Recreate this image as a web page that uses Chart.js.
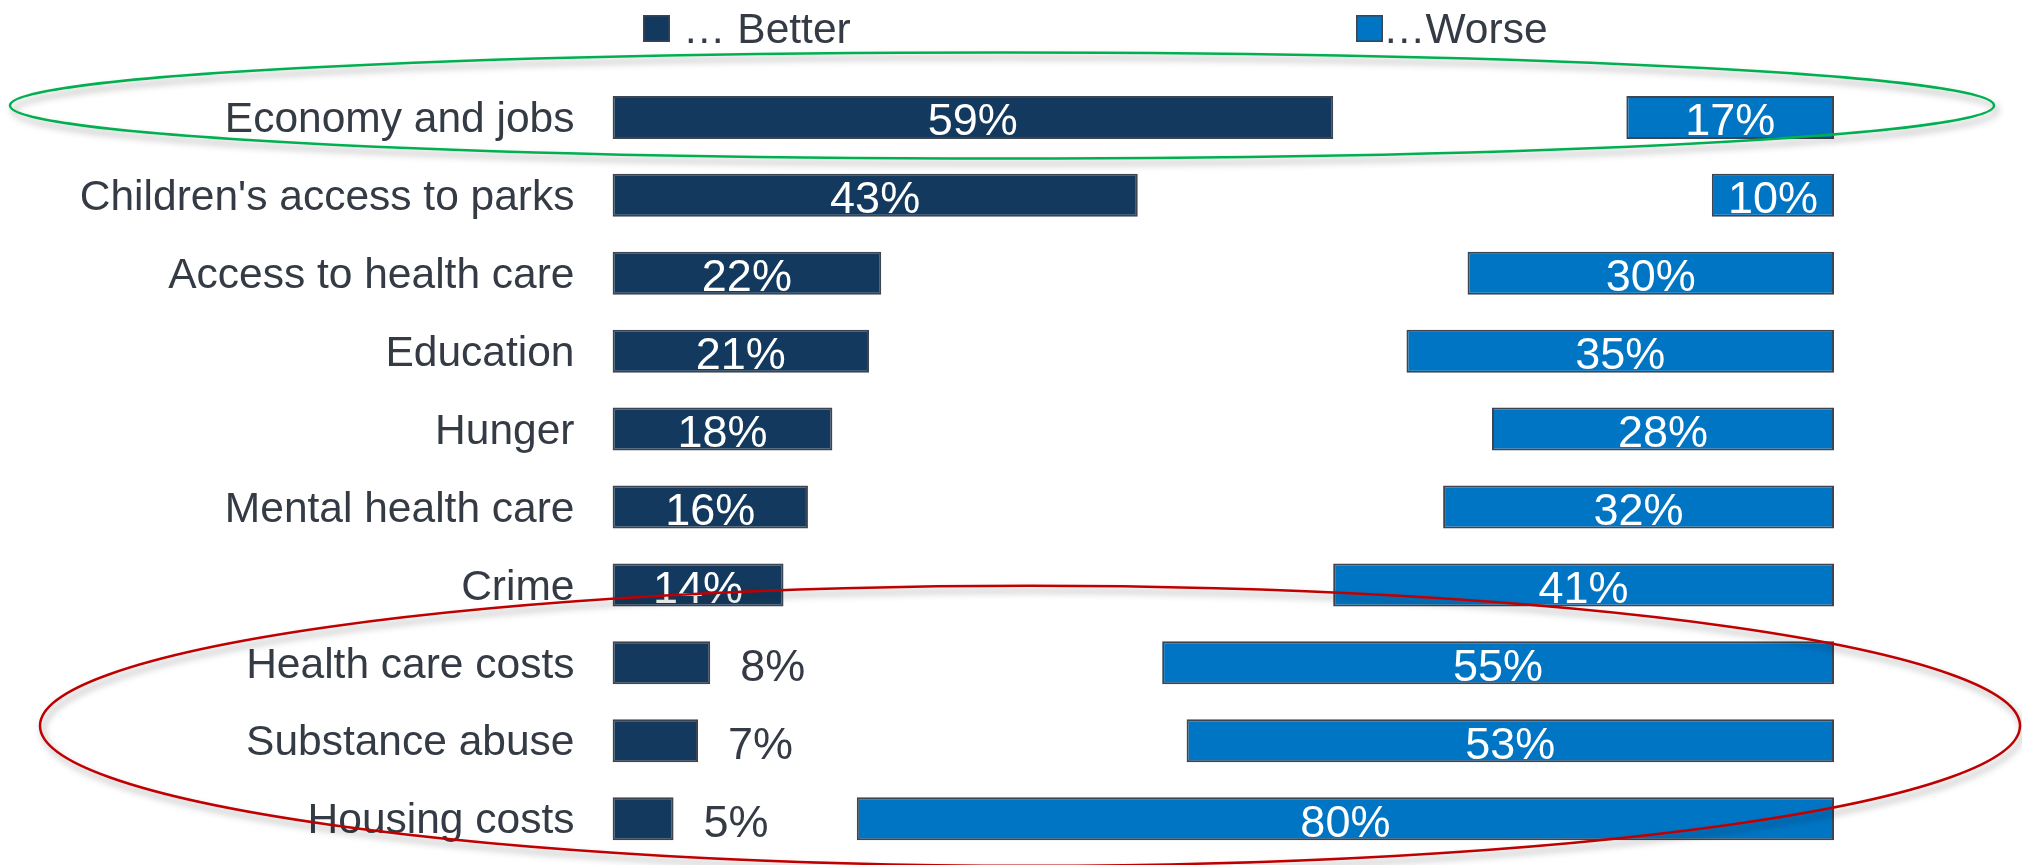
<!DOCTYPE html>
<html>
<head>
<meta charset="utf-8">
<script src="https://cdn.jsdelivr.net/npm/chart.js@4"></script>
<style>
  html, body { margin: 0; padding: 0; background: #ffffff; }
  #wrap { width: 2022px; height: 865px; position: relative; }
</style>
</head>
<body>
<div id="wrap"><canvas id="c" width="2022" height="865"></canvas></div>
<script>
const categories = [
  "Economy and jobs",
  "Children's access to parks",
  "Access to health care",
  "Education",
  "Hunger",
  "Mental health care",
  "Crime",
  "Health care costs",
  "Substance abuse",
  "Housing costs"
];
const betterValues = [59, 43, 22, 21, 18, 16, 14, 8, 7, 5];
const worseValues  = [17, 10, 30, 35, 28, 32, 41, 55, 53, 80];
const seriesNames  = ["\u2026 Better", "\u2026Worse"];
const axisMin = 0;
const axisMax = 100;

const FONT = '"Liberation Sans", Arial, "DejaVu Sans", sans-serif';
const BETTER_COLOR = '#133A5E';
const WORSE_COLOR = '#0075C4';
const BORDER_COLOR = '#3E4550';
const TEXT_COLOR = '#343B45';

// Value labels drawn from the bar elements
const valueLabels = {
  id: 'valueLabels',
  afterDatasetsDraw(chart) {
    const ctx = chart.ctx;
    ctx.save();
    ctx.font = '45px ' + FONT;
    ctx.textBaseline = 'alphabetic';
    const metaB = chart.getDatasetMeta(0);
    metaB.data.forEach((bar, i) => {
      const p = bar.getProps(['x', 'y', 'base'], true);
      const txt = betterValues[i] + '%';
      const tw = ctx.measureText(txt).width;
      const w = p.x - p.base;
      if (tw + 40 < w) {
        ctx.fillStyle = '#ffffff';
        ctx.textAlign = 'center';
        ctx.fillText(txt, (p.x + p.base) / 2, p.y + 18);
      } else {
        ctx.fillStyle = TEXT_COLOR;
        ctx.textAlign = 'left';
        ctx.fillText(txt, p.x + 30, p.y + 18);
      }
    });
    const metaW = chart.getDatasetMeta(1);
    metaW.data.forEach((bar, i) => {
      const p = bar.getProps(['x', 'y', 'base'], true);
      const txt = worseValues[i] + '%';
      ctx.fillStyle = '#ffffff';
      ctx.textAlign = 'center';
      ctx.fillText(txt, (p.x + p.base) / 2, p.y + 18);
    });
    ctx.restore();
  }
};

// Legend and highlight ellipses (decorations)
const decorations = {
  id: 'decorations',
  afterDraw(chart) {
    const ctx = chart.ctx;
    const y = chart.scales.y;
    ctx.save();
    // legend
    ctx.font = '42.5px ' + FONT;
    ctx.textBaseline = 'alphabetic';
    ctx.textAlign = 'left';
    const items = [
      { box: 643, text: 683, color: BETTER_COLOR, label: seriesNames[0] },
      { box: 1356, text: 1383, color: WORSE_COLOR, label: seriesNames[1] }
    ];
    items.forEach(it => {
      ctx.fillStyle = it.color;
      ctx.fillRect(it.box, 15, 27, 27);
      ctx.strokeStyle = BORDER_COLOR;
      ctx.lineWidth = 1.5;
      ctx.strokeRect(it.box + 0.75, 15.75, 25.5, 25.5);
      ctx.fillStyle = TEXT_COLOR;
      ctx.fillText(it.label, it.text, 43);
    });

    // ellipses with soft shadow
    const drawEllipse = (cx, cy, rx, ry, color) => {
      ctx.save();
      ctx.shadowColor = 'rgba(0,0,0,0.38)';
      ctx.shadowBlur = 7;
      ctx.shadowOffsetX = 3;
      ctx.shadowOffsetY = 5;
      ctx.strokeStyle = color;
      ctx.lineWidth = 2.5;
      ctx.beginPath();
      ctx.ellipse(cx, cy, rx, ry, 0, 0, Math.PI * 2);
      ctx.stroke();
      ctx.restore();
    };
    drawEllipse(1002, y.getPixelForValue(0) - 12, 992, 53, '#00B050');
    drawEllipse(1030, y.getPixelForValue(8) - 15, 990, 140, '#C00000');
    ctx.restore();
  }
};

new Chart(document.getElementById('c'), {
  type: 'bar',
  data: {
    labels: categories,
    datasets: [
      {
        label: seriesNames[0],
        data: betterValues,
        backgroundColor: BETTER_COLOR,
        borderColor: BORDER_COLOR,
        borderWidth: 2,
        borderSkipped: false,
        grouped: false,
        barPercentage: 0.552,
        categoryPercentage: 1.0
      },
      {
        label: seriesNames[1],
        data: worseValues.map(w => [axisMax - w, axisMax]),
        backgroundColor: WORSE_COLOR,
        borderColor: BORDER_COLOR,
        borderWidth: 2,
        borderSkipped: false,
        grouped: false,
        barPercentage: 0.552,
        categoryPercentage: 1.0
      }
    ]
  },
  options: {
    indexAxis: 'y',
    responsive: false,
    animation: false,
    layout: { padding: { top: 78.5, bottom: 7.4, left: 0, right: 188 } },
    plugins: {
      legend: { display: false },
      tooltip: { enabled: false }
    },
    scales: {
      x: {
        display: false,
        min: axisMin,
        max: axisMax
      },
      y: {
        grid: { display: false, drawTicks: false },
        border: { display: false },
        ticks: {
          color: TEXT_COLOR,
          font: { family: FONT, size: 42.5 },
          padding: 38,
          labelOffset: 3
        },
        afterFit(scale) {
          scale.width = 612.5;
          scale.paddingTop = 0;
          scale.paddingBottom = 0;
        }
      }
    }
  },
  plugins: [valueLabels, decorations]
});
</script>
</body>
</html>
